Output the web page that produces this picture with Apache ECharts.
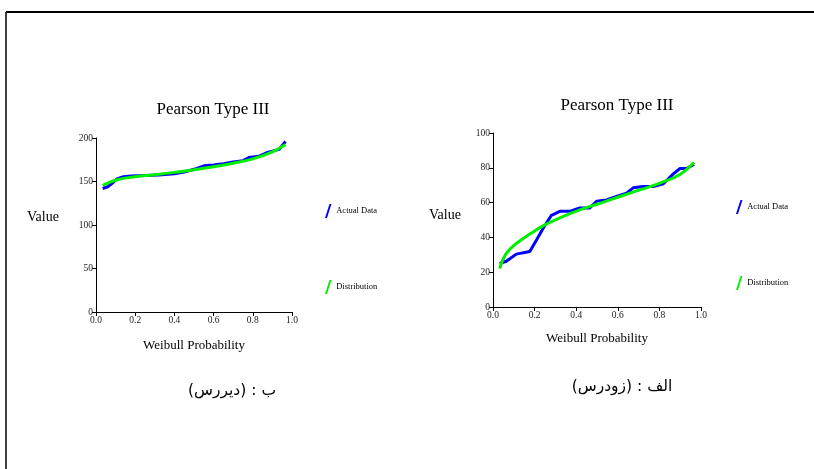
<!DOCTYPE html>
<html>
<head>
<meta charset="utf-8">
<script src="https://cdn.jsdelivr.net/npm/echarts@6/dist/echarts.min.js"></script>
<style>
html,body{margin:0;padding:0;background:#fff;}
#chart{width:814px;height:469px;}
</style>
</head>
<body>
<div id="chart"></div>
<script>
// ---- data ----
const titleText = 'Pearson Type III';
const xAxisName = 'Weibull Probability';
const yAxisName = 'Value';
const seriesNames = ['Actual Data', 'Distribution'];
const xTicks = [0.0, 0.2, 0.4, 0.6, 0.8, 1.0];
const leftYTicks = [0, 50, 100, 150, 200];
const rightYTicks = [0, 20, 40, 60, 80, 100];
const captionLeft = 'ب : (دیررس)';
const captionRight = 'الف : (زودرس)';

// Left chart (late)
const leftActualProb = [0.034, 0.06, 0.085, 0.107, 0.14, 0.18, 0.25, 0.32, 0.4, 0.45, 0.5, 0.55, 0.6, 0.65, 0.7, 0.75, 0.78, 0.83, 0.87, 0.91, 0.935, 0.967];
const leftActual     = [142, 144, 148.5, 153, 155.5, 156.3, 157, 157.5, 159, 161, 164, 168, 169, 170.5, 172.5, 174, 177.5, 179, 183, 185.5, 187, 196];
const leftDistProb = [0.034, 0.107, 0.2, 0.3, 0.4, 0.5, 0.6, 0.7, 0.8, 0.9, 0.967];
const leftDist     = [145.6, 152, 155.5, 157.8, 160.5, 163.5, 167, 171, 176, 184, 192.5];

// Right chart (early)
const rightActualProb = [0.032, 0.064, 0.112, 0.177, 0.209, 0.244, 0.281, 0.321, 0.369, 0.417, 0.465, 0.498, 0.546, 0.594, 0.642, 0.674, 0.722, 0.77, 0.819, 0.867, 0.899, 0.931, 0.966];
const rightActual     = [25, 26.3, 30.4, 31.9, 38.5, 45.8, 52.7, 55, 55, 56.9, 56.9, 60.8, 61.5, 63.5, 65.4, 68.5, 69.2, 69.2, 70.8, 76.5, 79.6, 79.6, 81.9];
const rightDistProb = [0.032, 0.064, 0.112, 0.177, 0.244, 0.321, 0.417, 0.514, 0.61, 0.706, 0.803, 0.899, 0.966];
const rightDist     = [22.1, 30.8, 36.5, 41.9, 46.9, 51.2, 55.8, 59.6, 63.5, 67.3, 71.2, 76.2, 83];

const pair = (xs, ys) => xs.map((x, i) => [x, ys[i]]);

const serif = '"Liberation Serif", "Times New Roman", serif';
const blue = '#0000ff';
const green = '#00ee00';
const legendIcon = 'path://M3.2,0 L4.6,0 L1.4,10 L0,10 Z';

function xAxisFor(gridIndex, gap) {
  return {
    type: 'value', gridIndex, min: 0, max: 1, interval: 0.2,
    name: xAxisName, nameLocation: 'middle', nameGap: gap,
    nameTextStyle: {fontFamily: serif, fontSize: 13, color: '#000'},
    axisLine: {show: true, onZero: false, lineStyle: {color: '#000', width: 1}},
    axisTick: {show: true, length: 4, lineStyle: {color: '#000'}},
    axisLabel: {margin: 3, fontFamily: serif, fontSize: 9.5, color: '#222',
      formatter: v => v.toFixed(1)},
    splitLine: {show: false}
  };
}
function yAxisFor(gridIndex, max, interval) {
  return {
    type: 'value', gridIndex, min: 0, max, interval,
    axisLine: {show: true, onZero: false, lineStyle: {color: '#000', width: 1}},
    axisTick: {show: true, length: 4, lineStyle: {color: '#000'}},
    axisLabel: {margin: 3, fontFamily: serif, fontSize: 9.5, color: '#222'},
    splitLine: {show: false}
  };
}
function lineSeries(name, data, color, xi, smooth) {
  return {
    name, type: 'line', xAxisIndex: xi, yAxisIndex: xi, data,
    showSymbol: false, symbol: 'none', smooth: smooth ? 0.4 : false,
    lineStyle: {color, width: 3}, itemStyle: {color},
    animation: false, silent: true
  };
}
function legendFor(left, top) {
  return {
    orient: 'vertical', left, top, itemGap: 62, itemWidth: 8, itemHeight: 14,
    icon: legendIcon, data: seriesNames, selectedMode: false,
    textStyle: {fontFamily: serif, fontSize: 8.5, color: '#000', padding: [0, 0, 0, -1]}
  };
}

const chart = echarts.init(document.getElementById('chart'), null, {renderer: 'canvas'});
chart.setOption({
  backgroundColor: '#fff',
  animation: false,
  title: [
    {text: titleText, left: 208, top: 96, textAlign: 'center',
     textStyle: {fontFamily: serif, fontSize: 17, fontWeight: 'normal', color: '#000'}},
    {text: titleText, left: 612, top: 92, textAlign: 'center',
     textStyle: {fontFamily: serif, fontSize: 17, fontWeight: 'normal', color: '#000'}}
  ],
  legend: [legendFor(320, 199), legendFor(731, 195)],
  grid: [
    {left: 96, right: 522, top: 138, bottom: 157},
    {left: 493, right: 113, top: 133, bottom: 162}
  ],
  xAxis: [xAxisFor(0, 27), xAxisFor(1, 25)],
  yAxis: [yAxisFor(0, leftYTicks[leftYTicks.length-1], leftYTicks[1]-leftYTicks[0]),
          yAxisFor(1, rightYTicks[rightYTicks.length-1], rightYTicks[1]-rightYTicks[0])],
  series: [
    lineSeries(seriesNames[0], pair(leftActualProb, leftActual), blue, 0, false),
    lineSeries(seriesNames[1], pair(leftDistProb, leftDist), green, 0, true),
    lineSeries(seriesNames[0], pair(rightActualProb, rightActual), blue, 1, false),
    lineSeries(seriesNames[1], pair(rightDistProb, rightDist), green, 1, true)
  ],
  graphic: [
    {type: 'line', shape: {x1: 6, y1: 12, x2: 814, y2: 12}, style: {stroke: '#000', lineWidth: 2}, silent: true},
    {type: 'line', shape: {x1: 6, y1: 12, x2: 6, y2: 469}, style: {stroke: '#000', lineWidth: 1.5}, silent: true},
    {type: 'text', x: 43, y: 217, style: {text: yAxisName, font: '14px ' + serif, fill: '#000', textAlign: 'center', textVerticalAlign: 'middle'}},
    {type: 'text', x: 445, y: 215, style: {text: yAxisName, font: '14px ' + serif, fill: '#000', textAlign: 'center', textVerticalAlign: 'middle'}},
    {type: 'text', x: 232, y: 391, style: {text: '\u200F' + captionLeft + '\u200F', font: '15.5px "DejaVu Sans", sans-serif', fill: '#000', textAlign: 'center', textVerticalAlign: 'middle'}},
    {type: 'text', x: 622, y: 387, style: {text: '\u200F' + captionRight + '\u200F', font: '15.5px "DejaVu Sans", sans-serif', fill: '#000', textAlign: 'center', textVerticalAlign: 'middle'}}
  ]
});
</script>
</body>
</html>
